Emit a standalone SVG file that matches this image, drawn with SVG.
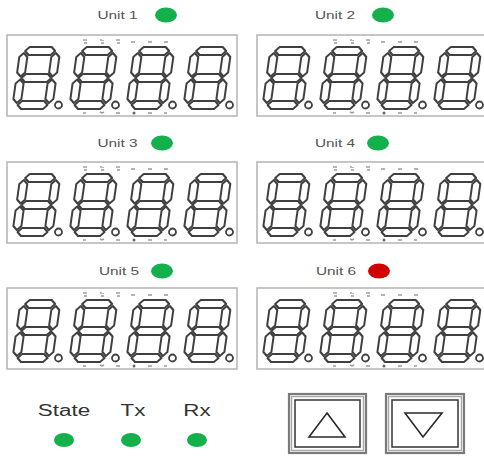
<svg xmlns="http://www.w3.org/2000/svg" xmlns:xlink="http://www.w3.org/1999/xlink" width="484" height="458" viewBox="0 0 484 458">
<style>
.seg{fill:#fff;stroke:#404040;stroke-width:2;stroke-linejoin:round}
.dp{fill:#fff;stroke:#404040;stroke-width:1.8}
.box{fill:#fff;stroke:#b4b4b4;stroke-width:1.5}
.mk{stroke:#9a9a9a;stroke-width:1.4;fill:none}
.lbl{font-family:"Liberation Sans",Arial,sans-serif;font-size:11px;fill:#555;text-anchor:middle}
.big{font-family:"Liberation Sans",Arial,sans-serif;font-size:16px;fill:#333;text-anchor:middle}
.on{fill:#14b04c}
.err{fill:#d10000}
.btn-o{fill:#fff;stroke:#7a7a7a;stroke-width:2.2}
.btn-m{fill:none;stroke:#a8a8a8;stroke-width:1.5}
.btn-i{fill:#fff;stroke:#333;stroke-width:1.5}
.tri{fill:#fff;stroke:#2a2a2a;stroke-width:1.6;stroke-linejoin:miter}
</style>
<defs>
<g id="digit">
<g transform="skewX(-8)">
<polygon class="seg" points="5,-58 9,-62 31,-62 35,-58 31,-54 9,-54"/>
<polygon class="seg" points="5,-31 9,-35 31,-35 35,-31 31,-27 9,-27"/>
<polygon class="seg" points="5,-4 9,-8 31,-8 35,-4 31,0 9,0"/>
<polygon class="seg" points="4,-56 8,-52 8,-36.5 4,-32.5 0,-36.5 0,-52"/>
<polygon class="seg" points="36,-56 40,-52 40,-36.5 36,-32.5 32,-36.5 32,-52"/>
<polygon class="seg" points="4,-29.5 8,-25.5 8,-10 4,-6 0,-10 0,-25.5"/>
<polygon class="seg" points="36,-29.5 40,-25.5 40,-10 36,-6 32,-10 32,-25.5"/>
</g>
<circle class="dp" cx="46.5" cy="-4" r="3.5"/>
</g>
<g id="display">
<rect class="box" x="0" y="0" width="230" height="81"/>
<use xlink:href="#digit" x="5" y="74"/>
<use xlink:href="#digit" x="62" y="74"/>
<use xlink:href="#digit" x="119" y="74"/>
<use xlink:href="#digit" x="176" y="74"/>
<g class="mk">
<path d="M77,4v2M79,4v2M77,8h3"/>
<path d="M94,4v2M96,5v1M94,8h3"/>
<path d="M110,4v2M112,4v2M110,8h3"/>
<path d="M124,7h4M141,7h4M157,7h4"/>
<path d="M76,78h3M93,77l2,1l2,-1M109,78h4M141,78h4M157,78h3"/>
</g>
<circle cx="127" cy="78" r="1.5" fill="#666"/>
</g>
</defs>

<g id="unit1">
<text class="lbl" transform="translate(117.5,19) scale(1.4,1)">Unit 1</text>
<ellipse class="on" cx="166" cy="15" rx="11" ry="7.5"/>
<use xlink:href="#display" x="7" y="35"/>
</g>
<g id="unit2">
<text class="lbl" transform="translate(335,19) scale(1.4,1)">Unit 2</text>
<ellipse class="on" cx="383" cy="15" rx="11" ry="7.5"/>
<use xlink:href="#display" x="257" y="35"/>
</g>
<g id="unit3">
<text class="lbl" transform="translate(117.5,147) scale(1.4,1)">Unit 3</text>
<ellipse class="on" cx="162" cy="143" rx="11" ry="7.5"/>
<use xlink:href="#display" x="7" y="162"/>
</g>
<g id="unit4">
<text class="lbl" transform="translate(335,147) scale(1.4,1)">Unit 4</text>
<ellipse class="on" cx="378" cy="143" rx="11" ry="7.5"/>
<use xlink:href="#display" x="257" y="162"/>
</g>
<g id="unit5">
<text class="lbl" transform="translate(119,275) scale(1.4,1)">Unit 5</text>
<ellipse class="on" cx="162" cy="271" rx="11" ry="7.5"/>
<use xlink:href="#display" x="7" y="288"/>
</g>
<g id="unit6">
<text class="lbl" transform="translate(336,275) scale(1.4,1)">Unit 6</text>
<ellipse class="err" cx="379" cy="271" rx="11" ry="7.5"/>
<use xlink:href="#display" x="257" y="288"/>
</g>

<g id="state">
<text class="big" transform="translate(64,416) scale(1.4,1)">State</text>
<ellipse class="on" cx="64" cy="440" rx="10" ry="7"/>
</g>
<g id="tx">
<text class="big" transform="translate(133,416) scale(1.4,1)">Tx</text>
<ellipse class="on" cx="131" cy="440" rx="10" ry="7"/>
</g>
<g id="rx">
<text class="big" transform="translate(197,416) scale(1.4,1)">Rx</text>
<ellipse class="on" cx="197" cy="440" rx="10" ry="7"/>
</g>

<g id="btn-up">
<rect class="btn-o" x="289" y="394" width="77" height="59"/>
<rect class="btn-m" x="291.5" y="396.5" width="72" height="54"/>
<rect class="btn-i" x="295" y="400" width="65" height="47"/>
<polygon class="tri" points="327,413 345,437 309,437"/>
</g>
<g id="btn-down">
<rect class="btn-o" x="386" y="394" width="78" height="59"/>
<rect class="btn-m" x="388.5" y="396.5" width="73" height="54"/>
<rect class="btn-i" x="392" y="400" width="66" height="47"/>
<polygon class="tri" points="405,413 442,413 423,437"/>
</g>
<g id="connectors"/>
</svg>
